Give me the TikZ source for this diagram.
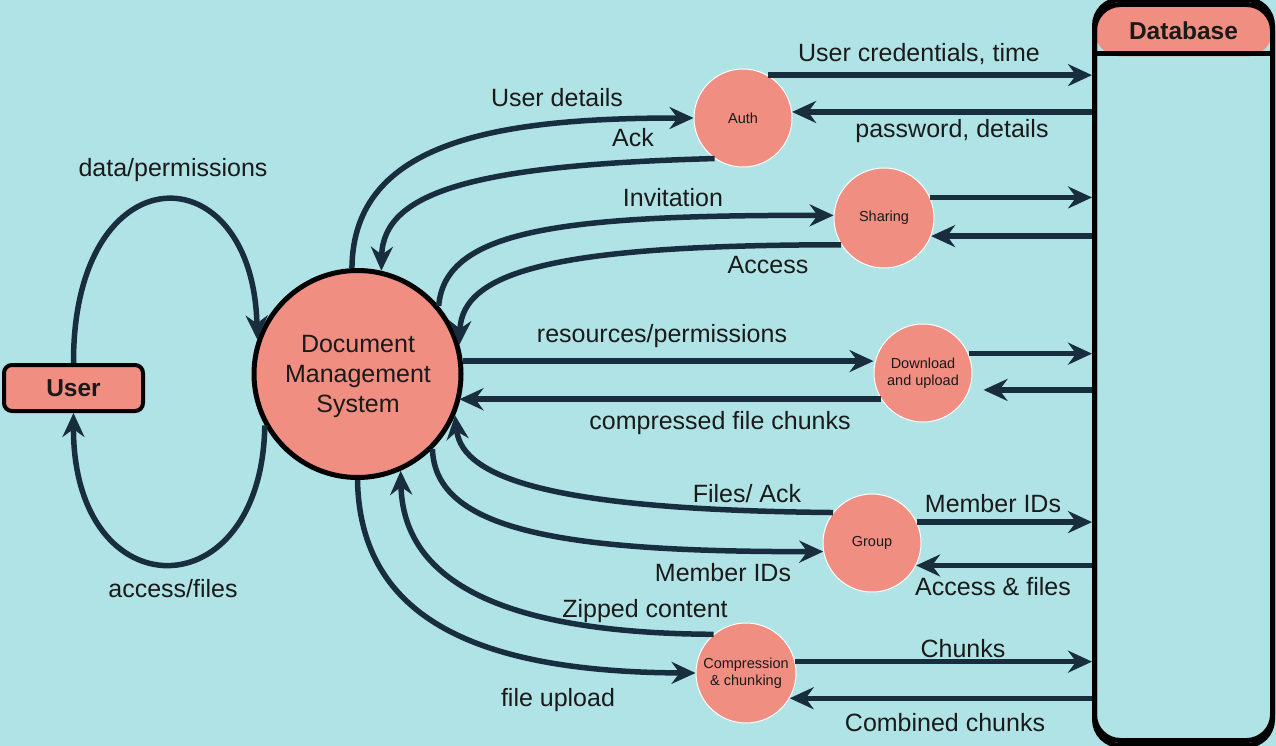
\documentclass[tikz,border=0pt]{standalone}
\usepackage{fontspec}
\setmainfont{Liberation Sans}
\usetikzlibrary{arrows.meta,calc}
\definecolor{bg}{HTML}{B0E3E6}
\definecolor{salmon}{HTML}{F08E81}
\definecolor{edge}{HTML}{182E3E}
\definecolor{txt}{HTML}{1A1A1A}
\tikzset{
  conn/.style={draw=edge, line width=5.5pt, -{Stealth[length=24pt,width=22pt,inset=8pt]}},
  lbl/.style={anchor=base, inner sep=0pt, text=txt, font=\fontsize{25}{30}\selectfont},
  proc/.style={circle, fill=salmon, draw=white, line width=1pt, minimum size=98pt, inner sep=0pt, align=center, text=txt, font=\fontsize{14.5}{17}\selectfont},
}
\begin{document}
\begin{tikzpicture}[x=1pt,y=-1pt]
\fill[bg] (0,0) rectangle (1276,746);
\useasboundingbox (0,0) rectangle (1276,746);

% nodes
\node[draw=black, fill=salmon, line width=4pt, rounded corners=8pt, minimum width=139pt, minimum height=46pt, inner sep=0pt, text=txt, font=\bfseries\fontsize{24.5}{28}\selectfont] (user) at (73.5,388) {User};
\node[circle, draw=black, fill=salmon, line width=5pt, minimum size=207pt, inner sep=0pt, align=center, text=txt, font=\fontsize{25}{30}\selectfont] (dms) at (357.5,374) {};
\node[align=center, text=txt, font=\fontsize{25}{30}\selectfont, inner sep=0pt] (dmst) at (358,376) {Document\\Management\\System};
\node[proc] (auth) at (743,118) {Auth};
\node[proc, minimum size=100pt] (sh) at (884,218) {Sharing};
\node[proc] (dl) at (923,373) {Download\\and upload};
\node[proc] (gr) at (872,543) {Group};
\node[proc, minimum size=100pt] (cc) at (746,673) {Compression\\\& chunking};

% database
\node[draw=black, line width=5pt, rounded corners=26pt, minimum width=178pt, minimum height=736pt, inner sep=0pt,
  path picture={\fill[salmon] (path picture bounding box.north west) rectangle ([yshift=-52pt]path picture bounding box.north east);}] (db) at (1183.5,372.5) {};
\draw[black, line width=5pt] ([yshift=-52pt]db.north west) -- ([yshift=-52pt]db.north east);
\draw[black, line width=5pt, rounded corners=26pt] ([shift={(2.5pt,-2.5pt)}]db.south west) rectangle ([shift={(-2.5pt,2.5pt)}]db.north east);
\node[text=txt, font=\bfseries\fontsize{24.5}{28}\selectfont, inner sep=0pt] (dbt) at (1183.5,31) {Database};

% user loops
\draw[conn] (user.north) .. controls (73,150) and (253,150) .. (dms.161);
\draw[conn] (dms.209) .. controls (262,612) and (73,612) .. (user.south);

% DMS <-> Auth
\draw[conn] (dms.93) .. controls (353,140) and (500,118) .. (auth.west);
\draw[conn] (auth.235) .. controls (480,165) and (383,190) .. (dms.77);
% DMS <-> Sharing
\draw[conn] (dms.40) .. controls (445,230) and (560,215) .. (sh.177);
\draw[conn] (sh.212) .. controls (560,245) and (462,270) .. (dms.16);
% DMS <-> Download
\draw[conn] (dms.7) -- (dms.7 -| dl.west);
\draw[conn] (dl.212) -- (dl.212 -| dms.-16);
% DMS <-> Group
\draw[conn] (gr.142) .. controls (560,510) and (462,480) .. (dms.-23);
\draw[conn] (dms.-45) .. controls (435,530) and (560,552) .. (gr.190);
% DMS <-> Compression
\draw[conn] (cc.130) .. controls (480,633) and (403,570) .. (dms.-66);
\draw[conn] (dms.-90) .. controls (360,620) and (480,672) .. (cc.west);

% processes <-> DB
\draw[conn] (auth.60) -- (auth.60 -| db.west);
\draw[conn] (auth.7 -| db.west) -- (auth.7);
\draw[conn] (sh.24) -- (sh.24 -| db.west);
\draw[conn] (sh.-21 -| db.west) -- (sh.-21);
\draw[conn] (dl.23) -- (dl.23 -| db.west);
\draw[conn, shorten >=14pt] (dl.-20 -| db.west) -- (dl.-20);
\draw[conn] (gr.25) -- (gr.25 -| db.west);
\draw[conn] (gr.-27 -| db.west) -- (gr.-27);
\draw[conn] (cc.13) -- (cc.13 -| db.west);
\draw[conn] (cc.-30 -| db.west) -- (cc.-30);

% labels
\node[lbl] (l1) at (173,177) {data/permissions};
\node[lbl] (l2) at (173,597) {access/files};
\node[lbl] (l3) at (557,107) {User details};
\node[lbl] (l4) at (633,147) {Ack};
\node[lbl] (l5) at (673,207) {Invitation};
\node[lbl] (l6) at (768,273) {Access};
\node[lbl] (l7) at (662,342) {resources/permissions};
\node[lbl] (l8) at (720,429) {compressed file chunks};
\node[lbl] (l9) at (747,502) {Files/ Ack};
\node[lbl] (l10) at (723,581) {Member IDs};
\node[lbl] (l11) at (645,617) {Zipped content};
\node[lbl] (l12) at (558,706) {file upload};
\node[lbl] (l13) at (919,62) {User credentials, time};
\node[lbl] (l14) at (952,138) {password, details};
\node[lbl] (l15) at (993,512) {Member IDs};
\node[lbl] (l16) at (993,595) {Access \& files};
\node[lbl] (l17) at (963,657) {Chunks};
\node[lbl] (l18) at (945,731) {Combined chunks};
\end{tikzpicture}
\end{document}
